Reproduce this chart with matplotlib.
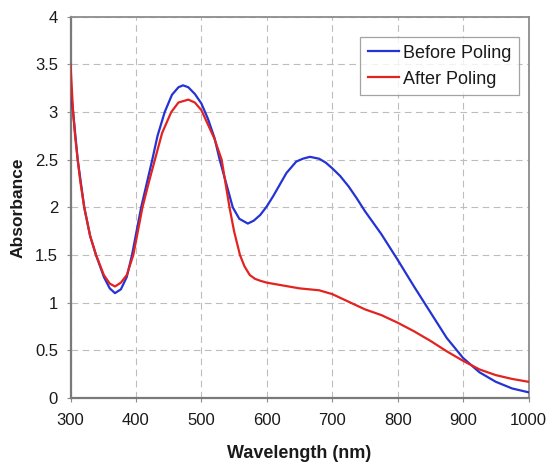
import matplotlib
matplotlib.use("Agg")
import matplotlib.pyplot as plt

plt.rcParams['font.family'] = ['Liberation Sans', 'DejaVu Sans']

# Before Poling (blue)
before_wl = [300, 304, 311, 321, 330, 339, 351, 360, 368, 377, 386, 394, 408, 425,
             433, 444, 455, 465, 472, 480, 490, 500, 510, 520, 528, 538, 548, 558,
             571, 580, 590, 600, 610, 620, 630, 645, 655, 666, 680, 690, 700, 712, 725,
             737, 750, 775, 800, 825, 850, 875, 900, 925, 950, 975, 1000]
before_abs = [3.23, 3.0, 2.5, 2.0, 1.7, 1.5, 1.27, 1.15, 1.10, 1.14, 1.27, 1.5, 2.0, 2.5,
              2.75, 3.0, 3.18, 3.26, 3.28, 3.26, 3.19, 3.09, 2.93, 2.73, 2.5, 2.25, 2.0, 1.88,
              1.83, 1.86, 1.92, 2.01, 2.12, 2.24, 2.36, 2.48, 2.51, 2.53, 2.51, 2.47, 2.41, 2.33, 2.22,
              2.1, 1.96, 1.72, 1.45, 1.17, 0.9, 0.63, 0.42, 0.27, 0.17, 0.1, 0.06]

# After Poling (red)
after_wl = [300, 302, 304, 307, 311, 315, 321, 330, 339, 351, 360, 368, 377, 386,
            396, 410, 420, 429, 440, 454, 465, 480, 490, 500, 510, 520, 531, 543,
            550, 559, 566, 574, 582, 590, 600, 625, 650, 680, 700, 725, 750, 775,
            800, 825, 850, 875, 900, 925, 950, 975, 1000]
after_abs = [3.5, 3.25, 3.0, 2.75, 2.5, 2.27, 2.0, 1.7, 1.5, 1.29, 1.2, 1.17, 1.21, 1.29,
             1.5, 2.0, 2.27, 2.5, 2.78, 3.0, 3.1, 3.13, 3.1, 3.02, 2.87, 2.72, 2.5, 2.0,
             1.75, 1.5, 1.38, 1.29, 1.25, 1.23, 1.21, 1.18, 1.15, 1.13, 1.09, 1.01, 0.93, 0.87,
             0.79, 0.7, 0.6, 0.49, 0.39, 0.3, 0.24, 0.2, 0.17]

x_ticks = [300, 400, 500, 600, 700, 800, 900, 1000]
y_ticks = [0, 0.5, 1, 1.5, 2, 2.5, 3, 3.5, 4]
y_tick_labels = ['0', '0.5', '1', '1.5', '2', '2.5', '3', '3.5', '4']

W, H = 549, 469
fig = plt.figure(figsize=(W / 100, H / 100), dpi=100)
ax = fig.add_axes([70.5 / W, 1 - 398 / H, (528.5 - 70.5) / W, (398 - 16.7) / H])

ax.plot(before_wl, before_abs, color='#2433d4', lw=1.6, label='Before Poling', zorder=3)
ax.plot(after_wl, after_abs, color='#e3231f', lw=1.6, label='After Poling', zorder=3)

ax.set_xlim(300, 1000)
ax.set_ylim(0, 4)
ax.set_xticks(x_ticks)
ax.set_xticklabels([str(t) for t in x_ticks])
ax.set_yticks(y_ticks)
ax.set_yticklabels(y_tick_labels)

ax.grid(True, color='#bdbdbd', lw=0.8, linestyle=(0, (6, 4)))
ax.set_axisbelow(True)

for s in ax.spines.values():
    s.set_color('#8c8c8c')
    s.set_linewidth(1.3)
ax.spines['left'].set_color('#7a7a7a')
ax.spines['bottom'].set_color('#7a7a7a')
ax.spines['left'].set_linewidth(1.6)
ax.spines['bottom'].set_linewidth(1.6)

ax.tick_params(axis='both', colors='#8c8c8c', length=3, width=0.8, labelsize=12,
               labelcolor='#1a1a1a')
ax.tick_params(axis='x', pad=8)
ax.tick_params(axis='y', pad=6)

ax.set_xlabel('Wavelength (nm)', fontsize=13, fontweight='bold', color='#1a1a1a', labelpad=12)
ax.set_ylabel('Absorbance', fontsize=12.5, fontweight='bold', color='#1a1a1a', labelpad=7)

leg = ax.legend(loc='upper left', bbox_to_anchor=(360 / W, 1 - 37 / H),
                bbox_transform=fig.transFigure, fontsize=13, frameon=True,
                fancybox=False, edgecolor='#8c8c8c', handlelength=1.75,
                handletextpad=0.2, borderpad=0.42, labelspacing=0.5,
                borderaxespad=0)
leg.get_frame().set_linewidth(0.9)
for t in leg.get_texts():
    t.set_color('#1a1a1a')

fig.savefig('out.png', dpi=100)
